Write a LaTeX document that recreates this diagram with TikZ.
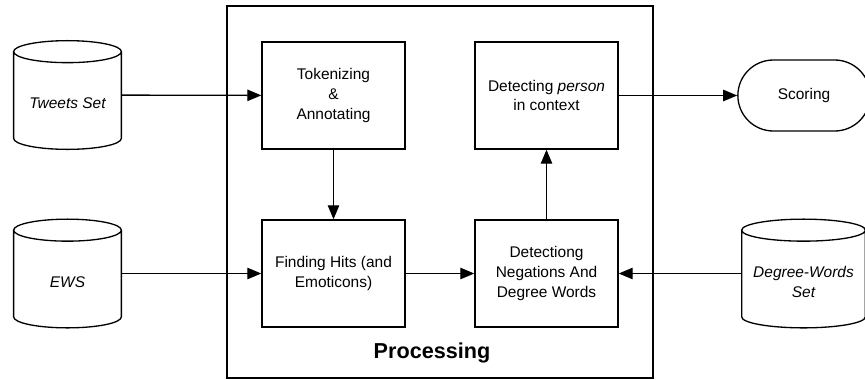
\documentclass[tikz,border=0pt]{standalone}
\usepackage{fontspec}
\setmainfont{Liberation Sans}
\usetikzlibrary{shapes.misc, arrows.meta, calc}

\tikzset{
    stepbox/.style={draw, line width=0.75pt, minimum width=2.86cm, minimum height=2.14cm, align=center, font=\fontsize{8.8}{11.2}\selectfont},
    dbase/.style={minimum width=2.14cm, minimum height=2.16cm, inner sep=0pt},
    dbtext/.style={yshift=-0.17cm, align=center, font=\fontsize{8.8}{11.2}\selectfont\itshape},
    endpoint/.style={draw, line width=0.75pt, rounded rectangle, minimum width=2.88cm, minimum height=1.42cm, font=\fontsize{8.8}{11.2}\selectfont},
    flow/.style={-{Triangle[length=8pt, width=6.5pt]}, line width=0.75pt}
}

\begin{document}
\begin{tikzpicture}
    \useasboundingbox (0,0) rectangle (17.3,7.58);

    % Frame
    \draw[line width=0.75pt] (4.54,0.02) rectangle (13.06,7.46);
    \node[font=\fontsize{12.3}{14}\selectfont\bfseries] (proc) at (8.64,0.52) {Processing};

    % Data sets
    \node[dbase, label={[dbtext]center:Tweets Set}] (tweets) at (1.35,5.68) {};
    \node[dbase, label={[dbtext]center:EWS}] (ews) at (1.35,2.11) {};
    \node[dbase, minimum width=2.46cm, label={[dbtext]center:Degree-Words\\Set}] (degree) at (16.07,2.11) {};

    % Cylinder outlines
    \foreach \db in {tweets, ews, degree}{
        \draw[line width=0.75pt] let \p1=(\db.north west), \p2=(\db.south east), \n1={(\x2-\x1)/2} in
            (\x1,\y1-0.22cm) -- (\x1,\y2+0.22cm)
            arc[start angle=180, end angle=360, x radius=\n1, y radius=0.22cm]
            -- (\x2,\y1-0.22cm)
            arc[start angle=0, end angle=360, x radius=\n1, y radius=0.22cm];
    }

    % Processing steps
    \node[stepbox] (token) at (6.67,5.67) {Tokenizing\\\&\\Annotating};
    \node[stepbox] (hits) at (6.67,2.11) {Finding Hits (and\\Emoticons)};
    \node[stepbox] (negate) at (10.93,2.11) {Detectiong\\Negations And\\Degree Words};
    \node[stepbox] (person) at (10.93,5.67) {Detecting \textit{person}\\in context};

    % Output
    \node[endpoint] (score) at (16.08,5.67) {Scoring};

    % Connecting arrows
    \draw[flow] (tweets) -- (token);
    \draw[flow] (ews) -- (hits);
    \draw[flow] (token) -- (hits);
    \draw[flow] (hits) -- (negate);
    \draw[flow] (degree) -- (negate);
    \draw[flow] (negate) -- (person);
    \draw[flow] (person) -- (score);

\end{tikzpicture}
\end{document}
